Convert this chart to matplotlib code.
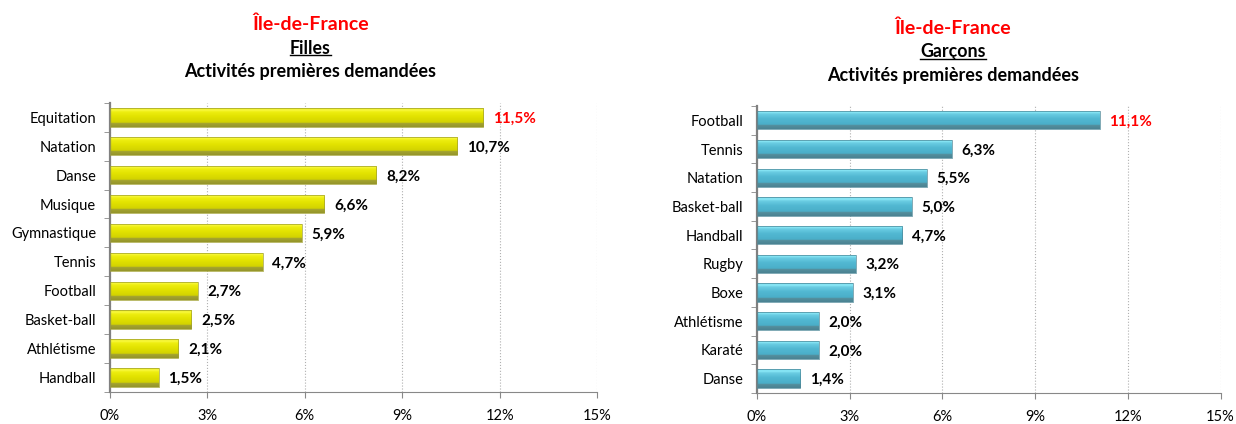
import matplotlib.pyplot as plt
import numpy as np
from matplotlib.colors import LinearSegmentedColormap
from matplotlib.ticker import MultipleLocator, FuncFormatter

plt.rcParams['font.family'] = ['Lato', 'DejaVu Sans']

filles_labels = ["Equitation", "Natation", "Danse", "Musique", "Gymnastique",
                 "Tennis", "Football", "Basket-ball", "Athlétisme", "Handball"]
filles_values = [11.5, 10.7, 8.2, 6.6, 5.9, 4.7, 2.7, 2.5, 2.1, 1.5]

garcons_labels = ["Football", "Tennis", "Natation", "Basket-ball", "Handball",
                  "Rugby", "Boxe", "Athlétisme", "Karaté", "Danse"]
garcons_values = [11.1, 6.3, 5.5, 5.0, 4.7, 3.2, 3.1, 2.0, 2.0, 1.4]

yellow = LinearSegmentedColormap.from_list(
    "y", [(0.0, "#95952A"), (0.2, "#A5A530"), (0.23, "#D2D200"), (0.55, "#E2E200"),
          (0.8, "#EEEE10"), (0.9, "#F8F840"), (1.0, "#E8E820")])
cyan = LinearSegmentedColormap.from_list(
    "c", [(0.0, "#4A8292"), (0.2, "#55909E"), (0.23, "#4AAEC8"), (0.55, "#52B8D2"),
          (0.8, "#6ACDE3"), (0.9, "#8CEAF8"), (1.0, "#72D4E8")])


def draw_panel(ax, labels, values, cmap, edge):
    y = np.arange(len(labels))[::-1]
    bars = ax.barh(y, values, height=0.64, color="none", edgecolor=edge, linewidth=0.5, zorder=3)
    grad = np.linspace(0, 1, 64).reshape(-1, 1)
    for b in bars:
        x0, y0 = b.get_x(), b.get_y()
        w, h = b.get_width(), b.get_height()
        im = ax.imshow(grad, cmap=cmap, aspect="auto", origin="lower",
                       extent=(x0, x0 + w, y0, y0 + h), zorder=2)
        im.set_clip_path(b)
    for i, (yy, v) in enumerate(zip(y, values)):
        ax.text(v + 0.3, yy - 0.05, f"{v:.1f}%".replace(".", ","), va="center", ha="left",
                fontsize=11, fontweight="bold", color="red" if i == 0 else "black")
    ax.set_xlim(0, 15)
    ax.set_ylim(-0.5, len(labels) - 0.5)
    ax.set_yticks(y)
    ax.set_yticklabels(labels, fontsize=10.5)
    ax.tick_params(axis="y", length=0, pad=10)
    ax.set_yticks(np.arange(-0.5, len(labels), 1), minor=True)
    ax.tick_params(axis="y", which="minor", length=4, color="#888888")
    ax.xaxis.set_major_locator(MultipleLocator(3))
    ax.xaxis.set_major_formatter(FuncFormatter(lambda v, p: f"{v:.0f}%"))
    ax.tick_params(axis="x", length=4, color="#888888", pad=8, labelsize=10.5)
    ax.grid(axis="x", linestyle=":", color="#B0B0B0", linewidth=0.8, zorder=0)
    for s in ("top", "right"):
        ax.spines[s].set_visible(False)
    ax.spines["left"].set_color("#808080")
    ax.spines["left"].set_linewidth(1.6)
    ax.spines["bottom"].set_color("#888888")
    ax.set_axisbelow(True)


fig = plt.figure(figsize=(12.36, 4.24), dpi=100)
ax1 = fig.add_axes([0.089, 0.0755, 0.394, 0.682])
ax2 = fig.add_axes([0.6125, 0.0731, 0.375, 0.677])

draw_panel(ax1, filles_labels, filles_values, yellow, "#A0A030")
draw_panel(ax2, garcons_labels, garcons_values, cyan, "#4E8898")

for xc, ytop, sub in [(0.251, 0.943, "Filles"), (0.771, 0.934, "Garçons")]:
    fig.text(xc, ytop, "Île-de-France", ha="center", va="center", color="red",
             fontsize=14, fontweight="bold")
    t = fig.text(xc, ytop - 0.0563, sub, ha="center", va="center", color="black",
                 fontsize=12.8, fontweight="bold")
    fig.text(xc, ytop - 0.1115, "Activités premières demandées", ha="center", va="center",
             color="black", fontsize=13, fontweight="bold")
    fig.canvas.draw()
    bb = t.get_window_extent().transformed(fig.transFigure.inverted())
    fig.add_artist(plt.Line2D([bb.x0, bb.x1], [bb.y0 + 0.004, bb.y0 + 0.004],
                              color="black", linewidth=1.0, transform=fig.transFigure))

fig.savefig("out.png", dpi=100)
